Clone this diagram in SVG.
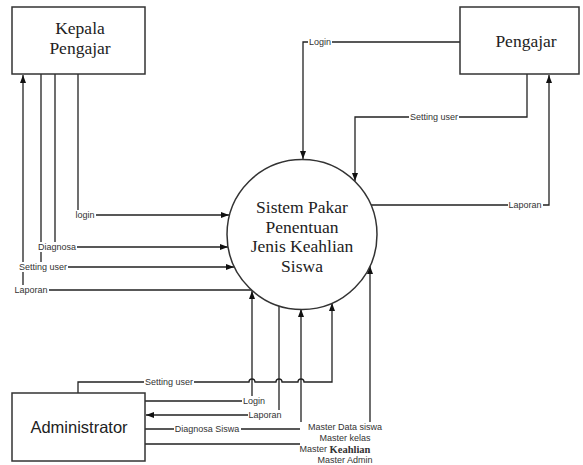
<svg xmlns="http://www.w3.org/2000/svg" width="583" height="465" viewBox="0 0 583 465">
  <defs>
    <marker id="arrow" markerWidth="8" markerHeight="6" refX="8" refY="3" orient="auto" markerUnits="userSpaceOnUse">
      <path d="M0,0 L8,3 L0,6 z" fill="#111"/>
    </marker>
    <style>
      .box { fill: #fff; stroke: #333; stroke-width: 1.5; }
      .proc { fill: #fff; stroke: #333; stroke-width: 1.5; }
      .edge { fill: none; stroke: #222; stroke-width: 1.3; }
      .arr { marker-end: url(#arrow); }
      .serif { font-family: "Liberation Serif", "DejaVu Serif", serif; font-size: 17.5px; fill: #222; text-anchor: middle; }
      .sans { font-family: "Liberation Sans", Arial, sans-serif; font-size: 16.5px; fill: #222; text-anchor: middle; }
      .bg { fill: #fff; }
      .lbl { font-family: "Liberation Sans", Arial, sans-serif; font-size: 9px; fill: #333; text-anchor: middle; dominant-baseline: central; }
    </style>
  </defs>
  <rect width="583" height="465" fill="#fff"/>

  <!-- data flows -->
  <g id="connectors">
    <!-- Kepala Pengajar flows -->
    <path class="edge arr" d="M78,74 V215 H229"/>
    <path class="edge arr" d="M55,74 V247 H228"/>
    <path class="edge arr" d="M41,74 V267 H234"/>
    <path class="edge arr" d="M252,290 H23 V75"/>
    <!-- Pengajar flows -->
    <path class="edge arr" d="M460,42 H303 V159"/>
    <path class="edge arr" d="M527,74 V117 H355 V181"/>
    <path class="edge arr" d="M371,205 H549 V75"/>
    <!-- Administrator flows (setting user hops over the crossing lines) -->
    <path class="edge arr" d="M78,393 V382 H249 a3,3 0 0 1 6,0 H276 a3,3 0 0 1 6,0 H298 a3,3 0 0 1 6,0 H332 V303"/>
    <path class="edge arr" d="M145,401 H252 V291"/>
    <path class="edge arr" d="M279,306 V415 H146"/>
    <path class="edge arr" d="M145,429 H301 V309"/>
    <path class="edge arr" d="M145,444 H370 V266"/>

    <!-- label backgrounds -->
    <rect class="bg" x="75" y="210" width="21" height="10"/>
    <rect class="bg" x="37" y="242" width="40" height="10"/>
    <rect class="bg" x="18" y="262" width="50" height="10"/>
    <rect class="bg" x="14" y="285" width="35" height="10"/>
    <rect class="bg" x="308" y="37" width="24" height="10"/>
    <rect class="bg" x="409" y="112" width="50" height="10"/>
    <rect class="bg" x="508" y="200" width="35" height="10"/>
    <rect class="bg" x="144" y="377" width="50" height="10"/>
    <rect class="bg" x="242" y="396" width="24" height="10"/>
    <rect class="bg" x="248" y="410" width="35" height="10"/>
    <rect class="bg" x="174" y="424" width="67" height="10"/>
    <rect class="bg" x="300" y="422" width="84" height="43"/>

    <!-- flow labels -->
    <text class="lbl" x="85" y="215">login</text>
    <text class="lbl" x="57" y="247">Diagnosa</text>
    <text class="lbl" x="43" y="267">Setting user</text>
    <text class="lbl" x="31" y="290">Laporan</text>
    <text class="lbl" x="320" y="42">Login</text>
    <text class="lbl" x="434" y="117">Setting user</text>
    <text class="lbl" x="525" y="205">Laporan</text>
    <text class="lbl" x="169" y="382">Setting user</text>
    <text class="lbl" x="254" y="401">Login</text>
    <text class="lbl" x="265" y="415">Laporan</text>
    <text class="lbl" x="207" y="429">Diagnosa Siswa</text>
    <text class="lbl" x="345" y="427">Master Data siswa</text>
    <text class="lbl" x="345" y="438">Master kelas</text>
    <text class="lbl" x="335" y="449">Master <tspan font-family="Liberation Serif, serif" font-size="10.5px" font-weight="bold">Keahlian</tspan></text>
    <text class="lbl" x="345" y="460">Master Admin</text>
  </g>

  <!-- external entities -->
  <g id="kepala-pengajar">
    <rect class="box" x="12" y="7" width="133" height="67"/>
    <text class="serif" x="80" y="34">Kepala</text>
    <text class="serif" x="80" y="54">Pengajar</text>
  </g>

  <g id="pengajar">
    <rect class="box" x="460" y="7" width="119" height="67"/>
    <text class="serif" x="526" y="47">Pengajar</text>
  </g>

  <g id="administrator">
    <rect class="box" x="12" y="393" width="133" height="68"/>
    <text class="sans" x="79" y="433">Administrator</text>
  </g>

  <!-- process -->
  <g id="sistem-pakar">
    <circle class="proc" cx="302" cy="234.5" r="75"/>
    <text class="serif" x="302" y="213">Sistem Pakar</text>
    <text class="serif" x="302" y="233">Penentuan</text>
    <text class="serif" x="302" y="252">Jenis Keahlian</text>
    <text class="serif" x="302" y="272">Siswa</text>
  </g>
</svg>
